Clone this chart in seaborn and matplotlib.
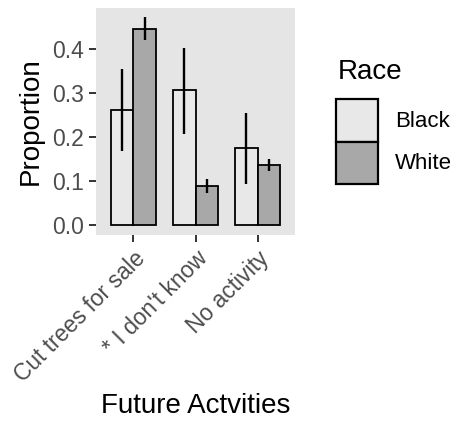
import matplotlib
matplotlib.use("Agg")
import matplotlib.pyplot as plt
import seaborn as sns
import pandas as pd
from matplotlib.patches import Patch

categories = ["Cut trees for sale", "* I don't know", "No activity"]
races = ["Black", "White"]
black_vals = [0.262, 0.307, 0.176]
white_vals = [0.445, 0.090, 0.136]
black_lo = [0.168, 0.207, 0.094]
black_hi = [0.354, 0.401, 0.255]
white_lo = [0.419, 0.074, 0.123]
white_hi = [0.472, 0.105, 0.151]
yticks = [0.0, 0.1, 0.2, 0.3, 0.4]
colors = {"Black": "#E8E8E8", "White": "#A8A8A8"}

df = pd.DataFrame({
    "Activity": categories * 2,
    "Race": ["Black"] * 3 + ["White"] * 3,
    "Proportion": black_vals + white_vals,
    "lo": black_lo + white_lo,
    "hi": black_hi + white_hi,
})

plt.rcParams["font.family"] = ["Liberation Sans", "DejaVu Sans"]
fig = plt.figure(figsize=(4.55, 4.22), dpi=100)
ax = fig.add_axes([96/455, 1 - 235/422, 199/455, 227/422])
ax.set_facecolor("#E5E5E5")

sns.barplot(data=df, x="Activity", y="Proportion", hue="Race", order=categories,
            hue_order=races, palette=colors, errorbar=None, width=0.73,
            edgecolor="black", linewidth=1.3, ax=ax, legend=False)

# error bars at bar centers
bars = [p for p in ax.patches]
for race_i, race in enumerate(races):
    sub = df[df["Race"] == race].set_index("Activity").loc[categories]
    for cat_i in range(len(categories)):
        p = bars[race_i * len(categories) + cat_i]
        xc = p.get_x() + p.get_width() / 2
        ax.vlines(xc, sub["lo"].iloc[cat_i], sub["hi"].iloc[cat_i], color="black", lw=1.7, zorder=5)

ax.set_xlim(-0.6, 2.6)
ax.set_ylim(-0.0215, 0.492)
ax.set_yticks(yticks)
ax.set_yticklabels([f"{v:.1f}" for v in yticks])
for s in ax.spines.values():
    s.set_visible(False)
ax.grid(False)
ax.tick_params(axis="both", colors="#333333", labelcolor="#4D4D4D", labelsize=16.5,
               length=5, width=1.4, pad=3.5)
plt.setp(ax.get_xticklabels(), rotation=45, ha="right", rotation_mode="anchor")
ax.set_xlabel("Future Actvities", fontsize=20)
ax.xaxis.label.set_va("center")
ax.xaxis.set_label_coords(195.5/455, 1 - 406/422, transform=fig.transFigure)
ax.set_ylabel("Proportion", fontsize=20, labelpad=6)

fig.text(338/455, 1 - 72/422, "Race", fontsize=20, ha="left", va="center")
handles = [Patch(facecolor=colors[r], edgecolor="black", linewidth=1.6) for r in races]
leg = fig.legend(handles, races, loc="upper left", bbox_to_anchor=(334/455, 1 - 97/422),
                 frameon=False, fontsize=16, handlelength=1.9, handleheight=2.55,
                 labelspacing=0.0, handletextpad=0.75, borderaxespad=0, borderpad=0.1)

fig.savefig("out.png", dpi=100)
